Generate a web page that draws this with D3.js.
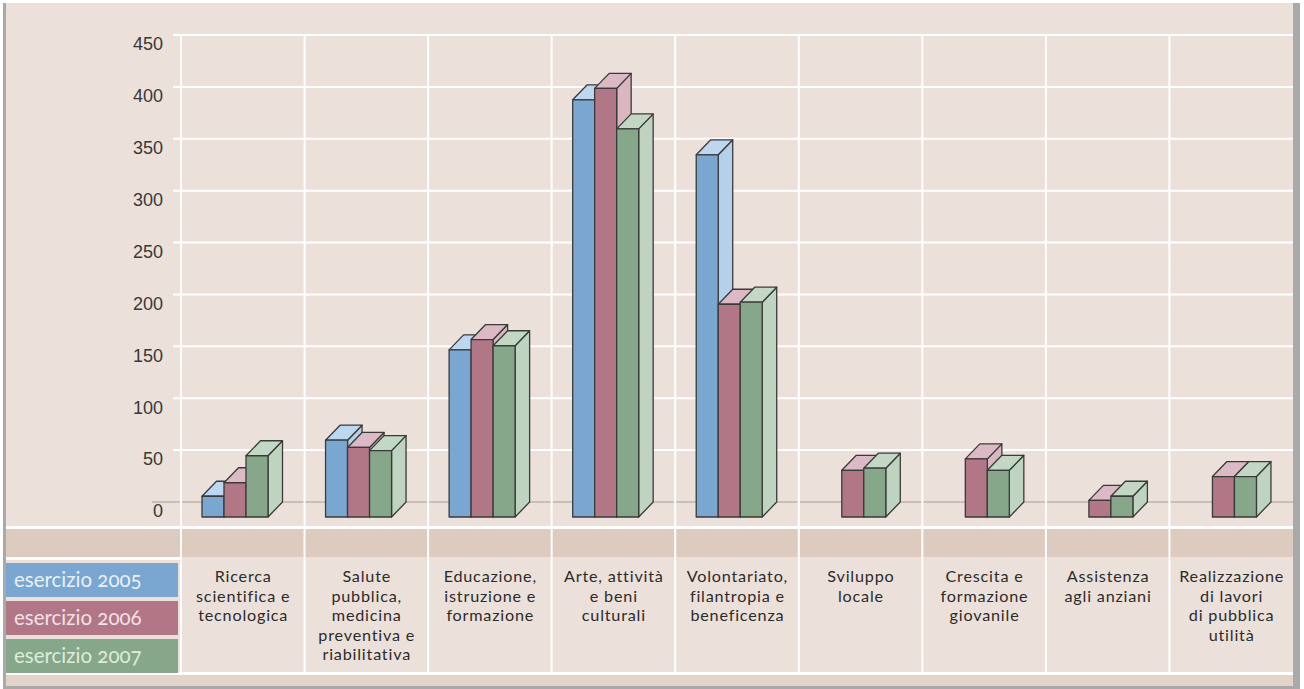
<!DOCTYPE html>
<html>
<head>
<meta charset="utf-8">
<script src="https://cdn.jsdelivr.net/npm/d3@7"></script>
<style>
  html, body { margin: 0; padding: 0; background: #fff; }
  svg { display: block; }
</style>
</head>
<body>
<svg id="chart" width="1304" height="689"></svg>
<script>
// Data
var categories = ["Ricerca scientifica e tecnologica", "Salute pubblica, medicina preventiva e riabilitativa",
  "Educazione, istruzione e formazione", "Arte, attività e beni culturali",
  "Volontariato, filantropia e beneficenza", "Sviluppo locale", "Crescita e formazione giovanile",
  "Assistenza agli anziani", "Realizzazione di lavori di pubblica utilità"];
var labelLines = [
  ["Ricerca", "scientifica e", "tecnologica"],
  ["Salute", "pubblica,", "medicina", "preventiva e", "riabilitativa"],
  ["Educazione,", "istruzione e", "formazione"],
  ["Arte, attività", "e beni", "culturali"],
  ["Volontariato,", "filantropia e", "beneficenza"],
  ["Sviluppo", "locale"],
  ["Crescita e", "formazione", "giovanile"],
  ["Assistenza", "agli anziani"],
  ["Realizzazione", "di lavori", "di pubblica", "utilità"]
];
var series = ["esercizio 2005", "esercizio 2006", "esercizio 2007"];
var v2005 = [20, 74, 161, 402, 349, null, null, null, null];
var v2006 = [33, 67, 171, 413, 205, 45, 56, 16, 39];
var v2007 = [59, 64, 165, 374, 207, 47, 45, 20, 39];
var yTicks = [0, 50, 100, 150, 200, 250, 300, 350, 400, 450];

var values = [v2005, v2006, v2007];
var colors = [
  {front: "#79a7d2", side: "#b5d0ea", top: "#bcd7f0", text: "#eaf1f8"},
  {front: "#b17786", side: "#dab6c1", top: "#dcbac5", text: "#f4e2e7"},
  {front: "#87a78a", side: "#bed4c1", top: "#c2d8c4", text: "#ddecdd"}
];

var svg = d3.select("svg#chart");
var W = 1304, H = 689;
var bg = "#ebe1da", band = "#dccbbe";
var depthX = 14.5, depthY = 15;

// frame
svg.append("rect").attr("x", 0).attr("y", 0).attr("width", W).attr("height", H).attr("fill", "#fff");
svg.append("rect").attr("x", 3).attr("y", 3).attr("width", 1297).attr("height", 686).attr("fill", "#a9a9a9");
svg.append("rect").attr("x", 6).attr("y", 3).attr("width", 1287).attr("height", 683).attr("fill", bg);

var x = d3.scaleBand().domain(categories).range([181, 1293]);
var xs = d3.scaleBand().domain(series).range([21, 87]);
var y = d3.scaleLinear().domain([0, 450]).range([502, 35]);

// lower bands
svg.append("rect").attr("x", 6).attr("y", 526).attr("width", 1287).attr("height", 3).attr("fill", "#fff");
svg.append("rect").attr("x", 6).attr("y", 529).attr("width", 1287).attr("height", 28).attr("fill", band);
svg.append("rect").attr("x", 6).attr("y", 557).attr("width", 175).attr("height", 3).attr("fill", "#fff");
svg.append("rect").attr("x", 6).attr("y", 672).attr("width", 1287).attr("height", 3).attr("fill", "#fff");
svg.append("rect").attr("x", 6).attr("y", 675).attr("width", 1287).attr("height", 11).attr("fill", "#e2d4c8");

// horizontal grid
svg.append("g").selectAll("line").data(yTicks.filter(function(d) { return d > 0; }))
  .enter().append("line")
  .attr("x1", 173).attr("x2", 1293)
  .attr("y1", function(d) { return y(d); }).attr("y2", function(d) { return y(d); })
  .attr("stroke", "#fff").attr("stroke-width", 2);
svg.append("line").attr("x1", 152).attr("x2", 1293).attr("y1", y(0)).attr("y2", y(0))
  .attr("stroke", "#bfb2a9").attr("stroke-width", 1.6);

// vertical grid
svg.append("g").selectAll("line").data(categories)
  .enter().append("line")
  .attr("x1", function(d) { return x(d); }).attr("x2", function(d) { return x(d); })
  .attr("y1", 35).attr("y2", 672)
  .attr("stroke", "#fff").attr("stroke-width", 2);

// y axis labels
svg.append("g").selectAll("text").data(yTicks)
  .enter().append("text")
  .attr("x", 163).attr("y", function(d) { return y(d) + 9; })
  .attr("dy", "0.35em").attr("text-anchor", "end")
  .attr("font-family", "Liberation Sans, Arial, sans-serif").attr("font-size", 18)
  .attr("fill", "#383838")
  .text(function(d) { return d; });

// 3D bars
var bars = svg.append("g");
categories.forEach(function(c, i) {
  series.forEach(function(s, j) {
    var v = values[j][i];
    if (v == null) return;
    var x0 = x(c) + xs(s), x1 = x0 + xs.bandwidth();
    var yt = y(v) + depthY, yb = y(0) + depthY;
    var g = bars.append("g").attr("stroke", "#3a3a3a").attr("stroke-width", 1.3).attr("stroke-linejoin", "round");
    g.append("path")
      .attr("d", "M" + x1 + "," + yt + "L" + (x1 + depthX) + "," + (yt - depthY) + "L" + (x1 + depthX) + "," + (yb - depthY) + "L" + x1 + "," + yb + "Z")
      .attr("fill", colors[j].side);
    g.append("path")
      .attr("d", "M" + x0 + "," + yt + "L" + (x0 + depthX) + "," + (yt - depthY) + "L" + (x1 + depthX) + "," + (yt - depthY) + "L" + x1 + "," + yt + "Z")
      .attr("fill", colors[j].top);
    g.append("rect")
      .attr("x", x0).attr("y", yt).attr("width", x1 - x0).attr("height", yb - yt)
      .attr("fill", colors[j].front);
  });
});

// category labels, one text per line
var lab = svg.append("g")
  .attr("font-family", "Lato, sans-serif").attr("font-size", 16.2)
  .attr("letter-spacing", 0.8)
  .attr("fill", "#2b2b2b").attr("text-anchor", "middle");
categories.forEach(function(c, i) {
  labelLines[i].forEach(function(line, k) {
    lab.append("text")
      .attr("x", x(c) + x.bandwidth() / 2 + 0.4)
      .attr("y", 582 + k * 19.5)
      .text(line);
  });
});

// legend
var legY = [563, 601, 639];
var leg = svg.append("g");
series.forEach(function(s, j) {
  leg.append("rect").attr("x", 6).attr("y", legY[j]).attr("width", 172).attr("height", 34)
    .attr("fill", colors[j].front);
  leg.append("text").attr("x", 14).attr("y", legY[j] + 24)
    .attr("font-family", "Lato, sans-serif").attr("font-size", 20.5)
    .style("font-variant-numeric", "oldstyle-nums")
    .attr("fill", colors[j].text)
    .text(s);
});
</script>
</body>
</html>
